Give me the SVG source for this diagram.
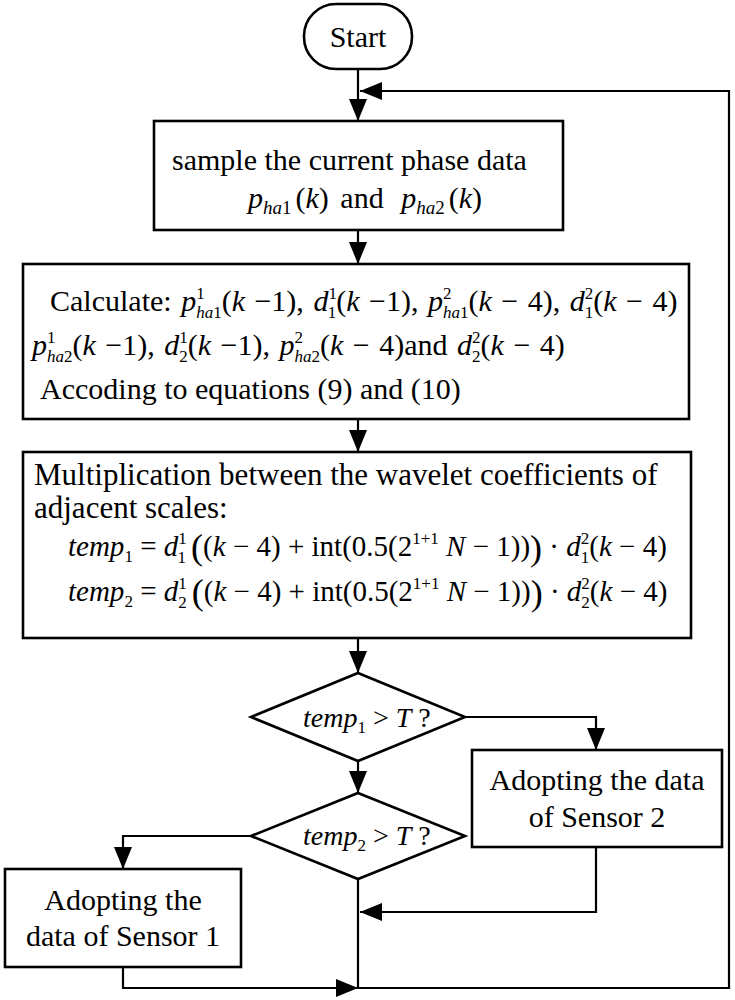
<svg xmlns="http://www.w3.org/2000/svg" width="735" height="1000" viewBox="0 0 735 1000">
<style>
.t{font-family:"Liberation Serif","Times New Roman",serif;font-size:30px;fill:#000}
.m{font-size:29px}
.d{font-size:28px}
.i{font-style:italic}
.s{font-size:17px;font-style:normal}
.si{font-size:17px;font-style:italic}
.s19{font-size:19px}
.b{font-size:36px}
.box{fill:#fff;stroke:#000;stroke-width:2.6}
.c{fill:none;stroke:#000;stroke-width:2.2}
</style>
<defs>
<marker id="ah" markerUnits="userSpaceOnUse" markerWidth="22" markerHeight="18" refX="22" refY="9" orient="auto">
<path d="M0,0 L22,9 L0,18 z" fill="#000"/>
</marker>
</defs>
<rect width="735" height="1000" fill="#fff"/>
<g id="connectors">
<path class="c" d="M358,69 V121" marker-end="url(#ah)"/>
<path class="c" d="M358,879 V988 H729 V91 H360" marker-end="url(#ah)"/>
<path class="c" d="M358,230 V264" marker-end="url(#ah)"/>
<path class="c" d="M358,419 V452" marker-end="url(#ah)"/>
<path class="c" d="M358,638 V673" marker-end="url(#ah)"/>
<path class="c" d="M465,717 H596 V750" marker-end="url(#ah)"/>
<path class="c" d="M358,761 V793" marker-end="url(#ah)"/>
<path class="c" d="M251,836 H123 V869" marker-end="url(#ah)"/>
<path class="c" d="M123,967 V988 H358" marker-end="url(#ah)"/>
<path class="c" d="M596,847 V912 H360" marker-end="url(#ah)"/>
</g>
<g id="start">
<rect class="box" x="304" y="4" width="108" height="65" rx="32" ry="32"/>
<text class="t" x="358" y="47" text-anchor="middle">Start</text>
</g>
<g id="sample">
<rect class="box" x="154" y="121" width="409" height="109"/>
<text class="t" x="172" y="170">sample the current phase data</text>
<text class="t" x="248" y="208"><tspan class="i">p</tspan><tspan class="si s19" dy="6">ha</tspan><tspan class="s s19">1</tspan><tspan dy="-6" dx="4">(<tspan class="i">k</tspan>)</tspan><tspan dx="4"> and  </tspan><tspan class="i" dx="10">p</tspan><tspan class="si s19" dy="6">ha</tspan><tspan class="s s19">2</tspan><tspan dy="-6" dx="4">(<tspan class="i">k</tspan>)</tspan></text>
</g>
<g id="calculate">
<rect class="box" x="23" y="264" width="666" height="155"/>
<text class="t" x="50" y="311" word-spacing="2">Calculate:  <tspan class="i">p</tspan><tspan class="s" dy="-12">1</tspan><tspan class="si" dx="-8.5" dy="19">ha</tspan><tspan class="s">1</tspan><tspan dy="-7">(<tspan class="i">k</tspan> −1), </tspan><tspan class="i">d</tspan><tspan class="s" dy="-12">1</tspan><tspan class="s" dx="-8.5" dy="19">1</tspan><tspan dy="-7">(<tspan class="i">k</tspan> −1), </tspan><tspan class="i">p</tspan><tspan class="s" dy="-12">2</tspan><tspan class="si" dx="-8.5" dy="19">ha</tspan><tspan class="s">1</tspan><tspan dy="-7">(<tspan class="i">k</tspan> − 4), </tspan><tspan class="i">d</tspan><tspan class="s" dy="-12">2</tspan><tspan class="s" dx="-8.5" dy="19">1</tspan><tspan dy="-7">(<tspan class="i">k</tspan> − 4)</tspan></text>
<text class="t" x="32" y="355" word-spacing="2"><tspan class="i">p</tspan><tspan class="s" dy="-12">1</tspan><tspan class="si" dx="-8.5" dy="19">ha</tspan><tspan class="s">2</tspan><tspan dy="-7">(<tspan class="i">k</tspan> −1), </tspan><tspan class="i">d</tspan><tspan class="s" dy="-12">1</tspan><tspan class="s" dx="-8.5" dy="19">2</tspan><tspan dy="-7">(<tspan class="i">k</tspan> −1), </tspan><tspan class="i">p</tspan><tspan class="s" dy="-12">2</tspan><tspan class="si" dx="-8.5" dy="19">ha</tspan><tspan class="s">2</tspan><tspan dy="-7">(<tspan class="i">k</tspan> − 4)and </tspan><tspan class="i">d</tspan><tspan class="s" dy="-12">2</tspan><tspan class="s" dx="-8.5" dy="19">2</tspan><tspan dy="-7">(<tspan class="i">k</tspan> − 4)</tspan></text>
<text class="t" x="40" y="399">Accoding to equations (9) and (10)</text>
</g>
<g id="multiply">
<rect class="box" x="23" y="452" width="668" height="186"/>
<text class="t" x="34" y="485" style="font-size:31px">Multiplication between the wavelet coefficients of</text>
<text class="t" x="34" y="518" style="font-size:31px">adjacent scales:</text>
<text class="t m" x="68" y="556"><tspan class="i">temp</tspan><tspan class="s" dy="6">1</tspan><tspan dy="-6"> = </tspan><tspan class="i">d</tspan><tspan class="s" dy="-12">1</tspan><tspan class="s" dx="-8.5" dy="19">1</tspan><tspan class="b" dx="5" dy="-4">(</tspan><tspan dy="-3">(<tspan class="i">k</tspan> − 4) + int(0.5(2</tspan><tspan class="s" dy="-12">1+1</tspan><tspan dy="12"> <tspan class="i">N</tspan> − 1))</tspan><tspan class="b" dy="4">)</tspan><tspan dy="-4"> · </tspan><tspan class="i">d</tspan><tspan class="s" dy="-12">2</tspan><tspan class="s" dx="-8.5" dy="19">1</tspan><tspan dy="-7">(<tspan class="i">k</tspan> − 4)</tspan></text>
<text class="t m" x="68" y="601"><tspan class="i">temp</tspan><tspan class="s" dy="6">2</tspan><tspan dy="-6"> = </tspan><tspan class="i">d</tspan><tspan class="s" dy="-12">1</tspan><tspan class="s" dx="-8.5" dy="19">2</tspan><tspan class="b" dx="5" dy="-4">(</tspan><tspan dy="-3">(<tspan class="i">k</tspan> − 4) + int(0.5(2</tspan><tspan class="s" dy="-12">1+1</tspan><tspan dy="12"> <tspan class="i">N</tspan> − 1))</tspan><tspan class="b" dy="4">)</tspan><tspan dy="-4"> · </tspan><tspan class="i">d</tspan><tspan class="s" dy="-12">2</tspan><tspan class="s" dx="-8.5" dy="19">2</tspan><tspan dy="-7">(<tspan class="i">k</tspan> − 4)</tspan></text>
</g>
<g id="decision1">
<polygon class="box" points="358,673 465,717 358,761 251,717"/>
<text class="t d" x="303" y="727"><tspan class="i">temp</tspan><tspan class="s" dy="6">1</tspan><tspan dy="-6"> &gt; </tspan><tspan class="i">T</tspan><tspan> ?</tspan></text>
</g>
<g id="decision2">
<polygon class="box" points="358,793 465,836 358,879 251,836"/>
<text class="t d" x="303" y="845"><tspan class="i">temp</tspan><tspan class="s" dy="6">2</tspan><tspan dy="-6"> &gt; </tspan><tspan class="i">T</tspan><tspan> ?</tspan></text>
</g>
<g id="sensor2">
<rect class="box" x="472" y="750" width="250" height="97"/>
<text class="t" x="597" y="790" text-anchor="middle">Adopting the data</text>
<text class="t" x="597" y="827" text-anchor="middle">of Sensor 2</text>
</g>
<g id="sensor1">
<rect class="box" x="5" y="869" width="236" height="98"/>
<text class="t" x="123" y="910" text-anchor="middle">Adopting the</text>
<text class="t" x="123" y="946" text-anchor="middle">data of Sensor 1</text>
</g>
</svg>
